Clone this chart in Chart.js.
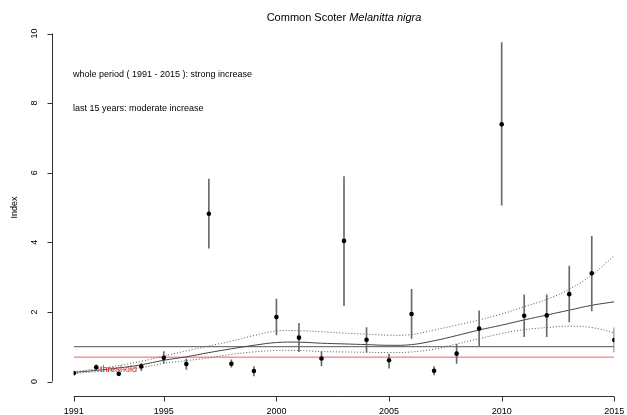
<!DOCTYPE html>
<html>
<head>
<meta charset="utf-8">
<script src="https://cdn.jsdelivr.net/npm/chart.js@4"></script>
<style>
  html, body { margin: 0; padding: 0; background: #fff; }
  canvas { display: block; }
</style>
</head>
<body>
<canvas id="chart" width="627" height="415"></canvas>
<script>
const years = [1991, 1992, 1993, 1994, 1995, 1996, 1997, 1998, 1999, 2000, 2001, 2002, 2003,
  2004, 2005, 2006, 2007, 2008, 2009, 2010, 2011, 2012, 2013, 2014, 2015];
const index = [0.24, 0.41, 0.22, 0.43, 0.68, 0.50, 4.82, 0.51, 0.30, 1.85, 1.26, 0.66, 4.04,
  1.20, 0.61, 1.94, 0.31, 0.80, 1.52, 7.39, 1.89, 1.90, 2.51, 3.11, 1.19];
const errLow = [0.21, 0.31, 0.19, 0.31, 0.52, 0.35, 3.83, 0.41, 0.16, 1.34, 0.86, 0.45, 2.18,
  0.84, 0.38, 1.24, 0.19, 0.52, 1.02, 5.07, 1.29, 1.29, 1.71, 2.03, 0.85];
const errHigh = [0.27, 0.48, 0.25, 0.52, 0.86, 0.65, 5.82, 0.62, 0.43, 2.37, 1.67, 0.86, 5.89,
  1.55, 0.79, 2.65, 0.43, 1.07, 2.03, 9.74, 2.49, 2.49, 3.32, 4.17, 1.54];
const trend = [0.26, 0.32, 0.39, 0.48, 0.61, 0.71, 0.83, 0.94, 1.04, 1.12, 1.13, 1.10, 1.08,
  1.06, 1.04, 1.06, 1.17, 1.32, 1.48, 1.62, 1.77, 1.91, 2.05, 2.19, 2.29];
const trendUpper = [0.28, 0.36, 0.46, 0.58, 0.73, 0.88, 1.02, 1.16, 1.32, 1.45, 1.46, 1.43, 1.39,
  1.36, 1.33, 1.35, 1.48, 1.62, 1.77, 1.94, 2.15, 2.36, 2.65, 3.06, 3.62];
const trendLower = [0.23, 0.28, 0.33, 0.40, 0.52, 0.60, 0.68, 0.78, 0.85, 0.89, 0.89, 0.86, 0.85,
  0.84, 0.83, 0.85, 0.93, 1.08, 1.23, 1.38, 1.49, 1.55, 1.59, 1.55, 1.40];
const baseLevel = 1;
const thresholdLevel = 0.7;
const xTicks = [1991, 1995, 2000, 2005, 2010, 2015];
const yTicks = [0, 2, 4, 6, 8, 10];

const FONT = '"Liberation Sans", Arial, sans-serif';

const pts = (vals) => years.map((y, i) => ({ x: y, y: vals[i] }));
const flat = (v) => [{ x: years[0], y: v }, { x: years[years.length - 1], y: v }];

// R-style detached axes, title and notes
const rAxes = {
  id: "rAxes",
  afterDraw(chart) {
    const { ctx, scales: { x, y } } = chart;
    const axisX = 52;
    const axisY = 396;
    ctx.save();
    ctx.strokeStyle = "#333";
    ctx.lineWidth = 1;
    ctx.fillStyle = "#000";

    // y axis
    ctx.beginPath();
    ctx.moveTo(axisX + 0.5, y.getPixelForValue(yTicks[0]));
    ctx.lineTo(axisX + 0.5, y.getPixelForValue(yTicks[yTicks.length - 1]));
    yTicks.forEach((t) => {
      const py = Math.round(y.getPixelForValue(t)) + 0.5;
      ctx.moveTo(axisX + 0.5, py);
      ctx.lineTo(axisX - 4.5, py);
    });
    ctx.stroke();
    ctx.font = `9px ${FONT}`;
    ctx.textAlign = "center";
    ctx.textBaseline = "middle";
    yTicks.forEach((t) => {
      ctx.save();
      ctx.translate(35, y.getPixelForValue(t));
      ctx.rotate(-Math.PI / 2);
      ctx.fillText(String(t), 0, 0);
      ctx.restore();
    });

    // x axis
    ctx.beginPath();
    ctx.moveTo(x.getPixelForValue(xTicks[0]), axisY + 0.5);
    ctx.lineTo(x.getPixelForValue(xTicks[xTicks.length - 1]), axisY + 0.5);
    xTicks.forEach((t) => {
      const px = Math.round(x.getPixelForValue(t)) + 0.5;
      ctx.moveTo(px, axisY + 0.5);
      ctx.lineTo(px, axisY + 5.5);
    });
    ctx.stroke();
    xTicks.forEach((t) => ctx.fillText(String(t), x.getPixelForValue(t), 412));

    // y title
    ctx.save();
    ctx.translate(15, (y.top + y.bottom) / 2);
    ctx.rotate(-Math.PI / 2);
    ctx.fillText("Index", 0, 0);
    ctx.restore();

    // main title, species name in italics
    const part1 = "Common Scoter ";
    const part2 = "Melanitta nigra";
    ctx.font = `11px ${FONT}`;
    const w1 = ctx.measureText(part1).width;
    ctx.font = `italic 11px ${FONT}`;
    const w2 = ctx.measureText(part2).width;
    const startX = (x.left + x.right) / 2 - (w1 + w2) / 2;
    ctx.textAlign = "left";
    ctx.font = `11px ${FONT}`;
    ctx.fillText(part1, startX, 18);
    ctx.font = `italic 11px ${FONT}`;
    ctx.fillText(part2, startX + w1, 18);

    // trend notes
    ctx.font = `9px ${FONT}`;
    ctx.fillText("whole period ( 1991 - 2015 ): strong increase", 73, 74.5);
    ctx.fillText("last 15 years: moderate increase", 73, 108.5);

    // threshold label
    ctx.fillStyle = "#e8262a";
    ctx.fillText("threshold", 100, 370);
    ctx.restore();
  },
};

new Chart(document.getElementById("chart"), {
  type: "line",
  data: {
    datasets: [
      {
        type: "scatter",
        data: pts(index),
        pointRadius: 2.3,
        pointBackgroundColor: "#000",
        pointBorderColor: "#000",
        pointBorderWidth: 0,
        showLine: false,
      },
      {
        type: "bar",
        data: years.map((y, i) => ({ x: y, y: [errLow[i], errHigh[i]] })),
        backgroundColor: "#6a6a6a",
        borderWidth: 0,
        barThickness: 1,
        grouped: false,
      },
      {
        data: pts(trend),
        borderColor: "#444",
        borderWidth: 1,
        pointRadius: 0,
        tension: 0.4,
      },
      {
        data: pts(trendUpper),
        borderColor: "#555",
        borderWidth: 1,
        borderDash: [1, 2],
        pointRadius: 0,
        tension: 0.4,
      },
      {
        data: pts(trendLower),
        borderColor: "#555",
        borderWidth: 1,
        borderDash: [1, 2],
        pointRadius: 0,
        tension: 0.4,
      },
      {
        data: flat(baseLevel),
        borderColor: "#555",
        borderWidth: 1,
        pointRadius: 0,
      },
      {
        data: flat(thresholdLevel),
        borderColor: "#e8645f",
        borderWidth: 1,
        pointRadius: 0,
      },
    ],
  },
  options: {
    responsive: false,
    animation: false,
    layout: { padding: { left: 73.7, right: 12.7, top: 33.5, bottom: 33.5 } },
    scales: {
      x: { type: "linear", min: 1991, max: 2015, offset: false, display: false },
      y: { type: "linear", min: 0, max: 10, display: false },
    },
    plugins: { legend: { display: false }, tooltip: { enabled: false } },
  },
  plugins: [rAxes],
});
</script>
</body>
</html>
